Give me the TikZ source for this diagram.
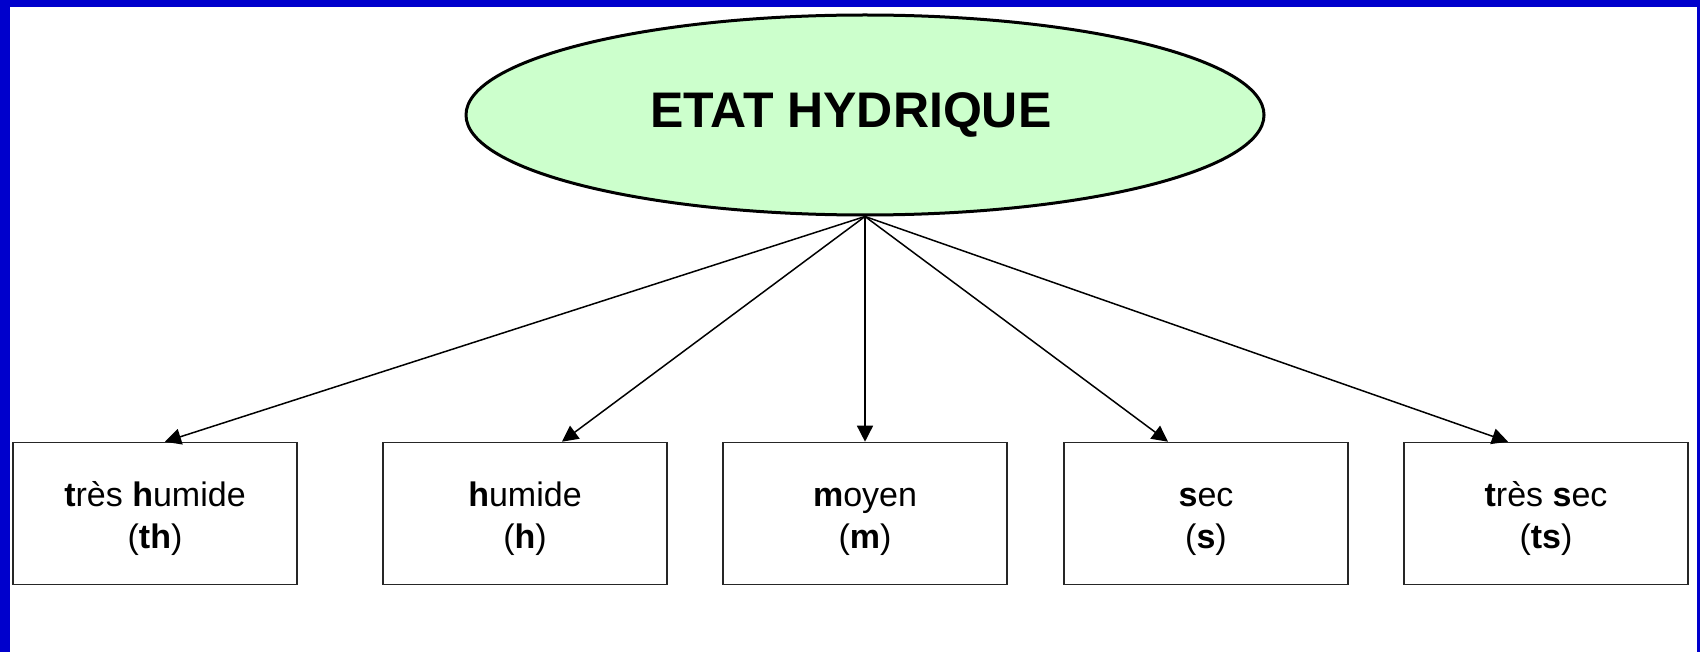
\documentclass[tikz,border=0pt]{standalone}
\usepackage{fontspec}
\setmainfont{Liberation Sans}
\usetikzlibrary{shapes.geometric,arrows.meta,calc}
\definecolor{frameblue}{RGB}{0,0,204}
\definecolor{palegreen}{RGB}{204,255,204}
\newcommand\boxtxt[2]{\rule{0pt}{18.7pt}#1\\#2\rule[-5pt]{0pt}{5pt}}
\tikzset{
  catbox/.style={draw=black!85, line width=0.8pt, rectangle, minimum width=142pt, minimum height=71pt, inner sep=0pt, align=center, font=\fontsize{17}{21}\selectfont},
  link/.style={line width=0.75pt, -{Triangle[length=8pt,width=8pt]}},
  root/.style={ellipse, draw=black, line width=1.5pt, fill=palegreen, minimum width=399pt, minimum height=100pt, inner sep=0pt, font=\fontsize{25}{30}\selectfont\bfseries}
}
\begin{document}
\begin{tikzpicture}[x=0.5pt,y=-0.5pt]
\useasboundingbox (0,0) rectangle (1700,652);
\fill[frameblue] (0,0) rectangle (1700,652);
\fill[white] (10,7) rectangle (1697,652);
\node[root] (top) at (865,115) {ETAT HYDRIQUE\hspace*{14pt}};
\node[catbox] (b1) at (155,513.5) {\boxtxt{\textbf{t}rès \textbf{h}umide}{(\textbf{th})}};
\node[catbox] (b2) at (525,513.5) {\boxtxt{\textbf{h}umide}{(\textbf{h})}};
\node[catbox] (b3) at (865,513.5) {\boxtxt{\textbf{m}oyen}{(\textbf{m})}};
\node[catbox] (b4) at (1206,513.5) {\boxtxt{\textbf{s}ec}{(\textbf{s})}};
\node[catbox] (b5) at (1546,513.5) {\boxtxt{\textbf{t}rès \textbf{s}ec}{(\textbf{ts})}};
\draw[link] (top.south) -- ([xshift=5pt]b1.north);
\draw[link] (top.south) -- ([xshift=18.5pt]b2.north);
\draw[link] (top.south) -- (b3.north);
\draw[link] (top.south) -- ([xshift=-19pt]b4.north);
\draw[link] (top.south) -- ([xshift=-19pt]b5.north);
\end{tikzpicture}
\end{document}
